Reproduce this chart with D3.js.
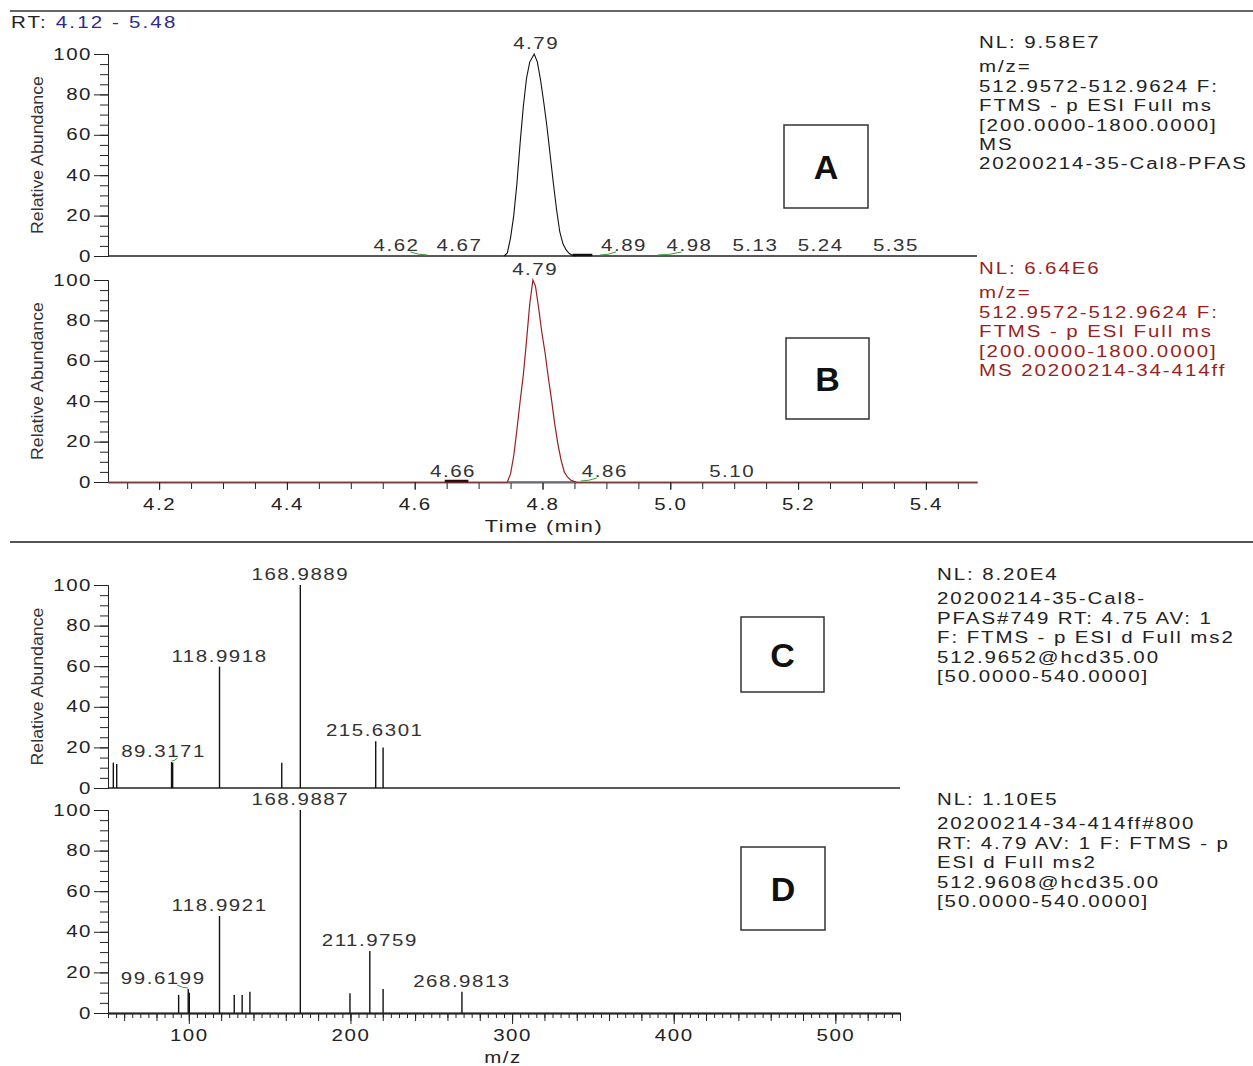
<!DOCTYPE html>
<html>
<head>
<meta charset="utf-8">
<script src="https://cdn.jsdelivr.net/npm/d3@7/dist/d3.min.js"></script>
<style>
  body { margin: 0; background: #fff; }
  svg text { font-family: "Liberation Sans", Arial, sans-serif; }
</style>
</head>
<body>
<div id="chart"></div>
<script>
// chromatogram A (black trace), retention time (min) vs relative abundance
var rtA  = [4.740, 4.745, 4.750, 4.755, 4.760, 4.765, 4.770, 4.775, 4.780, 4.787, 4.792, 4.797, 4.802, 4.807, 4.812, 4.817, 4.822, 4.827, 4.832, 4.837, 4.842, 4.847, 4.852];
var relA = [0, 1.5, 9, 20, 36, 56, 74, 88, 96, 100, 96, 87, 76, 64, 50, 36, 23, 12, 6, 3, 1.2, 0.4, 0];
// chromatogram B (red trace)
var rtB  = [4.745, 4.750, 4.755, 4.760, 4.765, 4.770, 4.775, 4.780, 4.785, 4.789, 4.794, 4.799, 4.804, 4.809, 4.814, 4.819, 4.824, 4.829, 4.834, 4.839, 4.844, 4.849, 4.853];
var relB = [0, 4, 13, 26, 40, 53, 70, 88, 100, 97, 86, 74, 64, 52, 41, 29, 19, 11, 5, 2.5, 1, 0.3, 0];

// labelled peaks in the chromatograms
var peaksA = ['4.62', '4.67', '4.79', '4.89', '4.98', '5.13', '5.24', '5.35'];
var peakHtA = [0, 0, 100, 0, 0, 0, 0, 0];
var peaksB = ['4.66', '4.79', '4.86', '5.10'];
var peakHtB = [0, 100, 0, 0];

// MS2 spectra C and D
var mzC  = [53.3, 55.4, 89.3171, 90.0, 118.9918, 157.5, 168.9889, 215.6301, 220.2];
var relC = [12.5, 11.8, 12.8, 12.5, 59.8, 12.5, 100, 23, 20];
var labC = ['89.3171', '118.9918', '168.9889', '215.6301'];
var mzD  = [93.7, 99.6199, 100.3, 118.9921, 128.1, 133.0, 137.8, 168.9887, 199.7, 211.9759, 220.2, 268.9813];
var relD = [8.9, 11.8, 10, 47.8, 8.9, 8.9, 10.5, 100, 9.7, 30.5, 11.8, 10.5];
var labD = ['99.6199', '118.9921', '168.9887', '211.9759', '268.9813'];

var timeTicks = [4.2, 4.4, 4.6, 4.8, 5.0, 5.2, 5.4];
var mzTicks = [100, 200, 300, 400, 500];
var yTicks = [0, 20, 40, 60, 80, 100];

var infoA = ['NL: 9.58E7', 'm/z=', '512.9572-512.9624 F:', 'FTMS - p ESI Full ms', '[200.0000-1800.0000]', 'MS', '20200214-35-Cal8-PFAS'];
var infoB = ['NL: 6.64E6', 'm/z=', '512.9572-512.9624 F:', 'FTMS - p ESI Full ms', '[200.0000-1800.0000]', 'MS 20200214-34-414ff'];
var infoC = ['NL: 8.20E4', '20200214-35-Cal8-', 'PFAS#749  RT: 4.75  AV: 1', 'F: FTMS - p ESI d Full ms2', '512.9652@hcd35.00', '[50.0000-540.0000]'];
var infoD = ['NL: 1.10E5', '20200214-34-414ff#800', 'RT: 4.79  AV: 1 F: FTMS - p', 'ESI d Full ms2', '512.9608@hcd35.00', '[50.0000-540.0000]'];

var W = 1253, H = 1066;
var ink = '#222', red = '#9a1f22', green = '#3c9a3c';
var fs = 16, ls = 1.2, sx = 1.28;   // the instrument software draws wide text

var svg = d3.select('#chart').append('svg')
    .attr('width', W)
    .attr('height', H);

// text stretched horizontally, anchored at (x, y)
function wideText(parent, x, y, s) {
    return parent.append('text')
        .attr('transform', 'translate(' + x + ',' + y + ') scale(' + sx + ',1)')
        .attr('font-size', fs)
        .attr('letter-spacing', ls)
        .text(s);
}

// stretch the labels an axis made
function stretchTicks(g) {
    g.selectAll('.tick text').each(function () {
        var t = d3.select(this);
        var tx = +t.attr('x') || 0;
        t.attr('x', tx / sx)
            .attr('transform', 'scale(' + sx + ',1)')
            .attr('font-size', fs)
            .attr('letter-spacing', ls)
            .attr('fill', ink);
    });
}

// separator lines
svg.append('line').attr('x1', 10).attr('x2', W).attr('y1', 11).attr('y2', 11)
    .attr('stroke', '#333').attr('stroke-width', 1.5);
svg.append('line').attr('x1', 10).attr('x2', W).attr('y1', 542).attr('y2', 542)
    .attr('stroke', '#555').attr('stroke-width', 2);

var rt = wideText(svg, 11, 28, '').attr('fill', ink).attr('letter-spacing', 1.7);
rt.append('tspan').text('RT: ');
rt.append('tspan').attr('fill', '#2c2c8c').text('4.12 - 5.48');

var x = d3.scaleLinear().domain([4.12, 5.48]).range([108, 977]);
var xm = d3.scaleLinear().domain([50, 540]).range([108, 900]);
var yA = d3.scaleLinear().domain([0, 100]).range([256, 54]);
var yB = d3.scaleLinear().domain([0, 100]).range([482, 280]);
var yC = d3.scaleLinear().domain([0, 100]).range([788, 585]);
var yD = d3.scaleLinear().domain([0, 100]).range([1013, 810]);

function yAxis(y, withTitle) {
    var g = svg.append('g').attr('transform', 'translate(108,0)');
    g.append('g').call(d3.axisLeft(y).tickValues(d3.range(0, 101, 5)).tickSize(8).tickFormat(''));
    g.append('g').call(d3.axisLeft(y).tickValues(yTicks).tickSize(14).tickPadding(2).tickSizeOuter(0));
    g.selectAll('path.domain').attr('stroke', ink);
    g.selectAll('.tick line').attr('stroke', ink);
    stretchTicks(g);
    if (withTitle) {
        var cy = (y(0) + y(100)) / 2;
        svg.append('text')
            .attr('transform', 'translate(43,' + cy + ') rotate(-90)')
            .attr('text-anchor', 'middle')
            .attr('font-size', 16)
            .attr('textLength', 158)
            .attr('lengthAdjust', 'spacingAndGlyphs')
            .attr('fill', '#333')
            .text('Relative Abundance');
    }
}

function baseline(y, x0, x1, color) {
    svg.append('line').attr('x1', x0).attr('x2', x1).attr('y1', y(0)).attr('y2', y(0))
        .attr('stroke', color).attr('stroke-width', 1.3);
}

function infoBlock(lines, x0, y0, color) {
    var t = svg.append('g');
    lines.forEach(function (s, i) {
        wideText(t, x0, y0 + (i === 0 ? 0 : 5 + i * 19.4), s)
            .attr('fill', color)
            .attr('letter-spacing', 1.5);
    });
}

function letterBox(label, x0, y0, w, h) {
    svg.append('rect').attr('x', x0).attr('y', y0).attr('width', w).attr('height', h)
        .attr('fill', 'none').attr('stroke', '#333').attr('stroke-width', 1.5);
    svg.append('text').attr('x', x0 + w / 2).attr('y', y0 + h / 2 + 12)
        .attr('text-anchor', 'middle').attr('font-size', 34).attr('font-weight', 'bold')
        .attr('fill', '#111').text(label);
}

// peak labels: some were nudged aside in the original, those get a green leader
function peakLabels(names, heights, xs, y, nudge) {
    names.forEach(function (s, i) {
        var px = xs(+s), dx = nudge[i] || 0;
        var top = y(heights[i]);
        if (Math.abs(dx) > 6) {
            var lx = px + dx + (dx < 0 ? 14 : -8);
            svg.append('path')
                .attr('d', 'M' + px + ',' + (top - 1) + ' Q' + ((px + lx) / 2) + ',' + (top - 1) + ' ' + lx + ',' + (top - 4))
                .attr('fill', 'none').attr('stroke', green).attr('stroke-width', 1);
        }
        wideText(svg, px + dx, top - 5, s)
            .attr('text-anchor', 'middle')
            .attr('fill', '#333');
    });
}

// ---- panel A ----
yAxis(yA, true);
baseline(yA, 108, 977, ink);
svg.append('path')
    .datum(d3.zip(rtA, relA))
    .attr('d', d3.line().x(function (d) { return x(d[0]); }).y(function (d) { return yA(d[1]); }))
    .attr('fill', 'none').attr('stroke', '#111').attr('stroke-width', 1.1);
svg.append('line').attr('x1', x(4.847)).attr('x2', x(4.878)).attr('y1', yA(0) - 1).attr('y2', yA(0) - 1)
    .attr('stroke', '#111').attr('stroke-width', 2.5);
peakLabels(peaksA, peakHtA, x, yA, [-31, 0, 0, 24, 32, 2, -3, 2]);
infoBlock(infoA, 979, 48, ink);
letterBox('A', 784, 125, 84, 83);

// ---- panel B ----
yAxis(yB, true);
var gx = svg.append('g').attr('transform', 'translate(0,' + yB(0) + ')');
gx.append('g').call(d3.axisBottom(x).tickValues(d3.range(4.15, 5.48, 0.05)).tickSize(7).tickFormat('').tickSizeOuter(0));
gx.append('g').call(d3.axisBottom(x).tickValues(timeTicks).tickSize(8).tickPadding(9).tickFormat(d3.format('.1f')).tickSizeOuter(0));
gx.selectAll('path.domain').attr('stroke', '#7a3a3a').attr('stroke-width', 1.3);
gx.selectAll('.tick line').attr('stroke', ink);
stretchTicks(gx);
svg.append('line').attr('x1', x(4.745)).attr('x2', x(4.853)).attr('y1', yB(0)).attr('y2', yB(0))
    .attr('stroke', '#6a7a8a').attr('stroke-width', 1.3);
svg.append('path')
    .datum(d3.zip(rtB, relB))
    .attr('d', d3.line().x(function (d) { return x(d[0]); }).y(function (d) { return yB(d[1]); }))
    .attr('fill', 'none').attr('stroke', red).attr('stroke-width', 1.2);
svg.append('line').attr('x1', x(4.647)).attr('x2', x(4.684)).attr('y1', yB(0) - 1).attr('y2', yB(0) - 1)
    .attr('stroke', '#2a0a0a').attr('stroke-width', 2.5);
peakLabels(peaksB, peakHtB, x, yB, [0, -1, 24, -2]);
wideText(svg, 544, 532, 'Time (min)').attr('text-anchor', 'middle').attr('font-size', 17).attr('fill', ink);
infoBlock(infoB, 979, 274, red);
letterBox('B', 786, 338, 83, 81);

// ---- panel C ----
function bars(mz, rel, y) {
    svg.append('g').selectAll('line')
        .data(d3.zip(mz, rel))
        .join('line')
        .attr('x1', function (d) { return xm(d[0]); })
        .attr('x2', function (d) { return xm(d[0]); })
        .attr('y1', y(0))
        .attr('y2', function (d) { return y(d[1]); })
        .attr('stroke', '#111')
        .attr('stroke-width', 1.4);
}

yAxis(yC, true);
baseline(yC, 108, 900, ink);
bars(mzC, relC, yC);
peakLabels(labC, labC.map(function (s) { return relC[mzC.indexOf(+s)]; }), xm, yC, [-8, 0, 0, -1]);
infoBlock(infoC, 937, 580, ink);
letterBox('C', 741, 617, 83, 75);

// ---- panel D ----
yAxis(yD, false);
bars(mzD, relD, yD);
peakLabels(labD, labD.map(function (s) { return relD[mzD.indexOf(+s)]; }), xm, yD, [-25, 0, 0, 0, 0]);
var gm = svg.append('g').attr('transform', 'translate(0,' + yD(0) + ')');
gm.append('g').call(d3.axisBottom(xm).tickValues(d3.range(50, 541, 5)).tickSize(5).tickFormat('').tickSizeOuter(0));
gm.append('g').call(d3.axisBottom(xm).tickValues(d3.range(60, 541, 20)).tickSize(8).tickFormat('').tickSizeOuter(0));
gm.append('g').call(d3.axisBottom(xm).tickValues(mzTicks).tickSize(11).tickPadding(6).tickSizeOuter(0));
gm.selectAll('path.domain').attr('stroke', ink).attr('stroke-width', 1.3);
gm.selectAll('.tick line').attr('stroke', ink);
stretchTicks(gm);
wideText(svg, 503, 1063, 'm/z').attr('text-anchor', 'middle').attr('fill', ink);
infoBlock(infoD, 937, 805, ink);
letterBox('D', 741, 847, 84, 83);
</script>
</body>
</html>
